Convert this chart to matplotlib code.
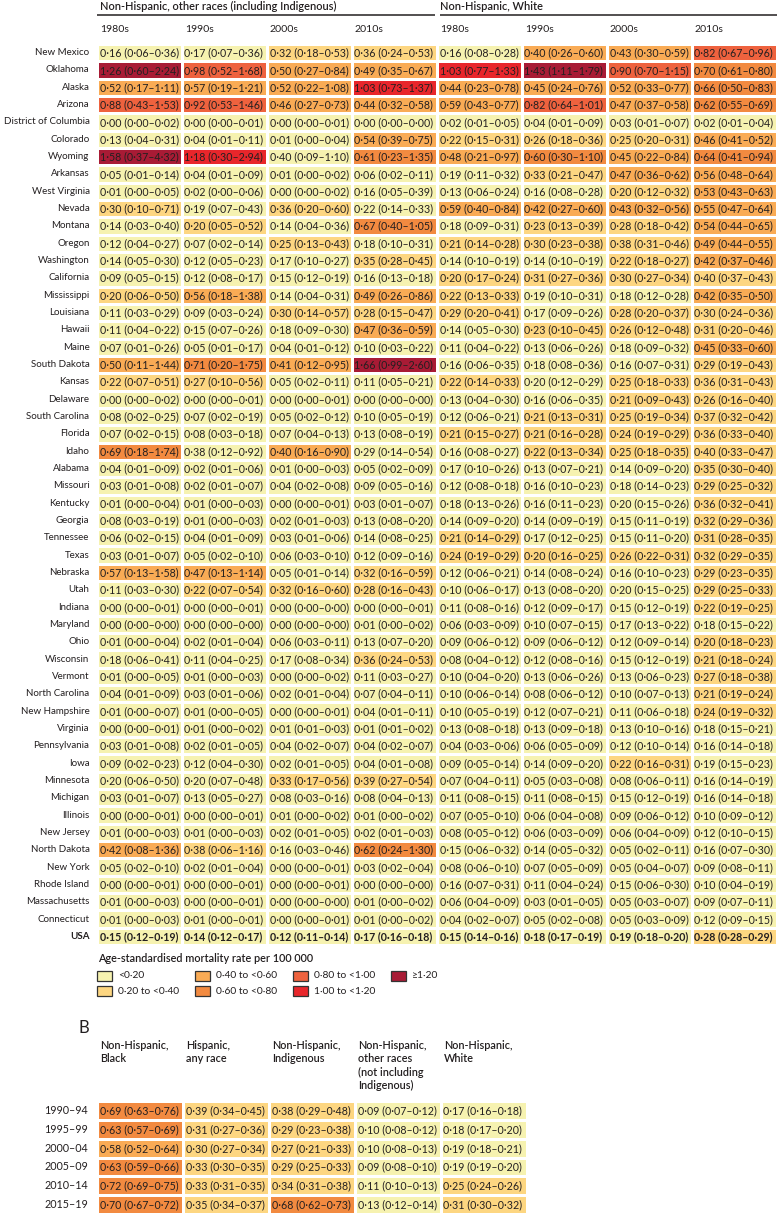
import matplotlib
matplotlib.use("Agg")
import matplotlib.pyplot as plt
import numpy as np
from matplotlib.colors import ListedColormap, BoundaryNorm
from matplotlib.patches import Rectangle

W, H = 778, 1215
plt.rcParams['font.family'] = ['Lato', 'DejaVu Sans']
TXT = "#231f20"

# ---------------- data: panel A ----------------
states = ["New Mexico", "Oklahoma", "Alaska", "Arizona", "District of Columbia", "Colorado",
          "Wyoming", "Arkansas", "West Virginia", "Nevada", "Montana", "Oregon", "Washington",
          "California", "Mississippi", "Louisiana", "Hawaii", "Maine", "South Dakota", "Kansas",
          "Delaware", "South Carolina", "Florida", "Idaho", "Alabama", "Missouri", "Kentucky",
          "Georgia", "Tennessee", "Texas", "Nebraska", "Utah", "Indiana", "Maryland", "Ohio",
          "Wisconsin", "Vermont", "North Carolina", "New Hampshire", "Virginia", "Pennsylvania",
          "Iowa", "Minnesota", "Michigan", "Illinois", "New Jersey", "North Dakota", "New York",
          "Rhode Island", "Massachusetts", "Connecticut", "USA"]

group_titles = ["Non-Hispanic, other races (including Indigenous)", "Non-Hispanic, White"]
decades = ["1980s", "1990s", "2000s", "2010s"]

oth_1980s = [(0.16,0.06,0.36),(1.26,0.60,2.24),(0.52,0.17,1.11),(0.88,0.43,1.53),(0.00,0.00,0.02),
             (0.13,0.04,0.31),(1.58,0.37,4.32),(0.05,0.01,0.14),(0.01,0.00,0.05),(0.30,0.10,0.71),
             (0.14,0.03,0.40),(0.12,0.04,0.27),(0.14,0.05,0.30),(0.09,0.05,0.15),(0.20,0.06,0.50),
             (0.11,0.03,0.29),(0.11,0.04,0.22),(0.07,0.01,0.26),(0.50,0.11,1.44),(0.22,0.07,0.51),
             (0.00,0.00,0.02),(0.08,0.02,0.25),(0.07,0.02,0.15),(0.69,0.18,1.74),(0.04,0.01,0.09),
             (0.03,0.01,0.08),(0.01,0.00,0.04),(0.08,0.03,0.19),(0.06,0.02,0.15),(0.03,0.01,0.07),
             (0.57,0.13,1.58),(0.11,0.03,0.30),(0.00,0.00,0.01),(0.00,0.00,0.00),(0.01,0.00,0.04),
             (0.18,0.06,0.41),(0.01,0.00,0.05),(0.04,0.01,0.09),(0.01,0.00,0.07),(0.00,0.00,0.01),
             (0.03,0.01,0.08),(0.09,0.02,0.23),(0.20,0.06,0.50),(0.03,0.01,0.07),(0.00,0.00,0.01),
             (0.01,0.00,0.03),(0.42,0.08,1.36),(0.05,0.02,0.10),(0.00,0.00,0.01),(0.01,0.00,0.03),
             (0.01,0.00,0.03),(0.15,0.12,0.19)]
oth_1990s = [(0.17,0.07,0.36),(0.98,0.52,1.68),(0.57,0.19,1.21),(0.92,0.53,1.46),(0.00,0.00,0.01),
             (0.04,0.01,0.11),(1.18,0.30,2.94),(0.04,0.01,0.09),(0.02,0.00,0.06),(0.19,0.07,0.43),
             (0.20,0.05,0.52),(0.07,0.02,0.14),(0.12,0.05,0.23),(0.12,0.08,0.17),(0.56,0.18,1.38),
             (0.09,0.03,0.24),(0.15,0.07,0.26),(0.05,0.01,0.17),(0.71,0.20,1.75),(0.27,0.10,0.56),
             (0.00,0.00,0.01),(0.07,0.02,0.19),(0.08,0.03,0.18),(0.38,0.12,0.92),(0.02,0.01,0.06),
             (0.02,0.01,0.07),(0.01,0.00,0.03),(0.01,0.00,0.03),(0.04,0.01,0.09),(0.05,0.02,0.10),
             (0.47,0.13,1.14),(0.22,0.07,0.54),(0.00,0.00,0.01),(0.00,0.00,0.00),(0.02,0.01,0.04),
             (0.11,0.04,0.25),(0.01,0.00,0.03),(0.03,0.01,0.06),(0.01,0.00,0.05),(0.01,0.00,0.02),
             (0.02,0.01,0.05),(0.12,0.04,0.30),(0.20,0.07,0.48),(0.13,0.05,0.27),(0.00,0.00,0.01),
             (0.01,0.00,0.03),(0.38,0.06,1.16),(0.02,0.01,0.04),(0.00,0.00,0.01),(0.00,0.00,0.01),
             (0.01,0.00,0.01),(0.14,0.12,0.17)]
oth_2000s = [(0.32,0.18,0.53),(0.50,0.27,0.84),(0.52,0.22,1.08),(0.46,0.27,0.73),(0.00,0.00,0.01),
             (0.01,0.00,0.04),(0.40,0.09,1.10),(0.01,0.00,0.02),(0.00,0.00,0.02),(0.36,0.20,0.60),
             (0.14,0.04,0.36),(0.25,0.13,0.43),(0.17,0.10,0.27),(0.15,0.12,0.19),(0.14,0.04,0.31),
             (0.30,0.14,0.57),(0.18,0.09,0.30),(0.04,0.01,0.12),(0.41,0.12,0.95),(0.05,0.02,0.11),
             (0.00,0.00,0.01),(0.05,0.02,0.12),(0.07,0.04,0.13),(0.40,0.16,0.90),(0.01,0.00,0.03),
             (0.04,0.02,0.08),(0.00,0.00,0.01),(0.02,0.01,0.03),(0.03,0.01,0.06),(0.06,0.03,0.10),
             (0.05,0.01,0.14),(0.32,0.16,0.60),(0.00,0.00,0.00),(0.00,0.00,0.00),(0.06,0.03,0.11),
             (0.17,0.08,0.34),(0.00,0.00,0.02),(0.02,0.01,0.04),(0.00,0.00,0.01),(0.01,0.01,0.03),
             (0.04,0.02,0.07),(0.02,0.01,0.05),(0.33,0.17,0.56),(0.08,0.03,0.16),(0.01,0.00,0.02),
             (0.02,0.01,0.05),(0.16,0.03,0.46),(0.00,0.00,0.01),(0.00,0.00,0.01),(0.00,0.00,0.00),
             (0.00,0.00,0.01),(0.12,0.11,0.14)]
oth_2010s = [(0.36,0.24,0.53),(0.49,0.35,0.67),(1.03,0.73,1.37),(0.44,0.32,0.58),(0.00,0.00,0.00),
             (0.54,0.39,0.75),(0.61,0.23,1.35),(0.06,0.02,0.11),(0.16,0.05,0.39),(0.22,0.14,0.33),
             (0.67,0.40,1.05),(0.18,0.10,0.31),(0.35,0.28,0.45),(0.16,0.13,0.18),(0.49,0.26,0.86),
             (0.28,0.15,0.47),(0.47,0.36,0.59),(0.10,0.03,0.22),(1.66,0.99,2.60),(0.11,0.05,0.21),
             (0.00,0.00,0.00),(0.10,0.05,0.19),(0.13,0.08,0.19),(0.29,0.14,0.54),(0.05,0.02,0.09),
             (0.09,0.05,0.16),(0.03,0.01,0.07),(0.13,0.08,0.20),(0.14,0.08,0.25),(0.12,0.09,0.16),
             (0.32,0.16,0.59),(0.28,0.16,0.43),(0.00,0.00,0.01),(0.01,0.00,0.02),(0.13,0.07,0.20),
             (0.36,0.24,0.53),(0.11,0.03,0.27),(0.07,0.04,0.11),(0.04,0.01,0.11),(0.01,0.01,0.02),
             (0.04,0.02,0.07),(0.04,0.01,0.08),(0.39,0.27,0.54),(0.08,0.04,0.13),(0.01,0.00,0.02),
             (0.02,0.01,0.03),(0.62,0.24,1.30),(0.03,0.02,0.04),(0.00,0.00,0.00),(0.01,0.00,0.02),
             (0.01,0.00,0.02),(0.17,0.16,0.18)]
wht_1980s = [(0.16,0.08,0.28),(1.03,0.77,1.33),(0.44,0.23,0.78),(0.59,0.43,0.77),(0.02,0.01,0.05),
             (0.22,0.15,0.31),(0.48,0.21,0.97),(0.19,0.11,0.32),(0.13,0.06,0.24),(0.59,0.40,0.84),
             (0.18,0.09,0.31),(0.21,0.14,0.28),(0.14,0.10,0.19),(0.20,0.17,0.24),(0.22,0.13,0.33),
             (0.29,0.20,0.41),(0.14,0.05,0.30),(0.11,0.04,0.22),(0.16,0.06,0.35),(0.22,0.14,0.33),
             (0.13,0.04,0.30),(0.12,0.06,0.21),(0.21,0.15,0.27),(0.16,0.08,0.27),(0.17,0.10,0.26),
             (0.12,0.08,0.18),(0.18,0.13,0.26),(0.14,0.09,0.20),(0.21,0.14,0.29),(0.24,0.19,0.29),
             (0.12,0.06,0.21),(0.10,0.06,0.17),(0.11,0.08,0.16),(0.06,0.03,0.09),(0.09,0.06,0.12),
             (0.08,0.04,0.12),(0.10,0.04,0.20),(0.10,0.06,0.14),(0.10,0.05,0.19),(0.13,0.08,0.18),
             (0.04,0.03,0.06),(0.09,0.05,0.14),(0.07,0.04,0.11),(0.11,0.08,0.15),(0.07,0.05,0.10),
             (0.08,0.05,0.12),(0.15,0.06,0.32),(0.08,0.06,0.10),(0.16,0.07,0.31),(0.06,0.04,0.09),
             (0.04,0.02,0.07),(0.15,0.14,0.16)]
wht_1990s = [(0.40,0.26,0.60),(1.43,1.11,1.79),(0.45,0.24,0.76),(0.82,0.64,1.01),(0.04,0.01,0.09),
             (0.26,0.18,0.36),(0.60,0.30,1.10),(0.33,0.21,0.47),(0.16,0.08,0.28),(0.42,0.27,0.60),
             (0.23,0.13,0.39),(0.30,0.23,0.38),(0.14,0.10,0.19),(0.31,0.27,0.36),(0.19,0.10,0.31),
             (0.17,0.09,0.26),(0.23,0.10,0.45),(0.13,0.06,0.26),(0.18,0.08,0.36),(0.20,0.12,0.29),
             (0.16,0.06,0.35),(0.21,0.13,0.31),(0.21,0.16,0.28),(0.22,0.13,0.34),(0.13,0.07,0.21),
             (0.16,0.10,0.23),(0.16,0.11,0.23),(0.14,0.09,0.19),(0.17,0.12,0.25),(0.20,0.16,0.25),
             (0.14,0.08,0.24),(0.13,0.08,0.20),(0.12,0.09,0.17),(0.10,0.07,0.15),(0.09,0.06,0.12),
             (0.12,0.08,0.16),(0.13,0.06,0.26),(0.08,0.06,0.12),(0.12,0.07,0.21),(0.13,0.09,0.18),
             (0.06,0.05,0.09),(0.14,0.09,0.20),(0.05,0.03,0.08),(0.11,0.08,0.15),(0.06,0.04,0.08),
             (0.06,0.03,0.09),(0.14,0.05,0.32),(0.07,0.05,0.09),(0.11,0.04,0.24),(0.03,0.01,0.05),
             (0.05,0.02,0.08),(0.18,0.17,0.19)]
wht_2000s = [(0.43,0.30,0.59),(0.90,0.70,1.15),(0.52,0.33,0.77),(0.47,0.37,0.58),(0.03,0.01,0.07),
             (0.25,0.20,0.31),(0.45,0.22,0.84),(0.47,0.36,0.62),(0.20,0.12,0.32),(0.43,0.32,0.56),
             (0.28,0.18,0.42),(0.38,0.31,0.46),(0.22,0.18,0.27),(0.30,0.27,0.34),(0.18,0.12,0.28),
             (0.28,0.20,0.37),(0.26,0.12,0.48),(0.18,0.09,0.32),(0.16,0.07,0.31),(0.25,0.18,0.33),
             (0.21,0.09,0.43),(0.25,0.19,0.34),(0.24,0.19,0.29),(0.25,0.18,0.35),(0.14,0.09,0.20),
             (0.18,0.14,0.23),(0.20,0.15,0.26),(0.15,0.11,0.19),(0.15,0.11,0.20),(0.26,0.22,0.31),
             (0.16,0.10,0.23),(0.20,0.15,0.25),(0.15,0.12,0.19),(0.17,0.13,0.22),(0.12,0.09,0.14),
             (0.15,0.12,0.19),(0.13,0.06,0.23),(0.10,0.07,0.13),(0.11,0.06,0.18),(0.13,0.10,0.16),
             (0.12,0.10,0.14),(0.22,0.16,0.31),(0.08,0.06,0.11),(0.15,0.12,0.19),(0.09,0.06,0.12),
             (0.06,0.04,0.09),(0.05,0.02,0.11),(0.05,0.04,0.07),(0.15,0.06,0.30),(0.05,0.03,0.07),
             (0.05,0.03,0.09),(0.19,0.18,0.20)]
wht_2010s = [(0.82,0.67,0.96),(0.70,0.61,0.80),(0.66,0.50,0.83),(0.62,0.55,0.69),(0.02,0.01,0.04),
             (0.46,0.41,0.52),(0.64,0.41,0.94),(0.56,0.48,0.64),(0.53,0.43,0.63),(0.55,0.47,0.64),
             (0.54,0.44,0.65),(0.49,0.44,0.55),(0.42,0.37,0.46),(0.40,0.37,0.43),(0.42,0.35,0.50),
             (0.30,0.24,0.36),(0.31,0.20,0.46),(0.45,0.33,0.60),(0.29,0.19,0.43),(0.36,0.31,0.43),
             (0.26,0.16,0.40),(0.37,0.32,0.42),(0.36,0.33,0.40),(0.40,0.33,0.47),(0.35,0.30,0.40),
             (0.29,0.25,0.32),(0.36,0.32,0.41),(0.32,0.29,0.36),(0.31,0.28,0.35),(0.32,0.29,0.35),
             (0.29,0.23,0.35),(0.29,0.25,0.33),(0.22,0.19,0.25),(0.18,0.15,0.22),(0.20,0.18,0.23),
             (0.21,0.18,0.24),(0.27,0.18,0.38),(0.21,0.19,0.24),(0.24,0.19,0.32),(0.18,0.15,0.21),
             (0.16,0.14,0.18),(0.19,0.15,0.23),(0.16,0.14,0.19),(0.16,0.14,0.18),(0.10,0.09,0.12),
             (0.12,0.10,0.15),(0.16,0.07,0.30),(0.09,0.08,0.11),(0.10,0.04,0.19),(0.09,0.07,0.11),
             (0.12,0.09,0.15),(0.28,0.28,0.29)]

# cells whose shading in the source differs from the rounded value's band: (row, col) -> band
shade_override_A = {(6, 2): 0, (9, 3): 0, (23, 1): 0, (23, 3): 0, (42, 0): 0, (42, 1): 0,
                    (13, 7): 1, (23, 7): 1, (19, 5): 0, (26, 6): 0, (31, 6): 0}

# ---------------- data: panel B ----------------
periods = ["1990–94", "1995–99", "2000–04", "2005–09", "2010–14", "2015–19"]
groups_B = ["Non-Hispanic,\nBlack", "Hispanic,\nany race", "Non-Hispanic,\nIndigenous",
            "Non-Hispanic,\nother races\n(not including\nIndigenous)", "Non-Hispanic,\nWhite"]
b_black = [(0.69,0.63,0.76),(0.63,0.57,0.69),(0.58,0.52,0.64),(0.63,0.59,0.66),(0.72,0.69,0.75),(0.70,0.67,0.72)]
b_hisp = [(0.39,0.34,0.45),(0.31,0.27,0.36),(0.30,0.27,0.34),(0.33,0.30,0.35),(0.33,0.31,0.35),(0.35,0.34,0.37)]
b_indig = [(0.38,0.29,0.48),(0.29,0.23,0.38),(0.27,0.21,0.33),(0.29,0.25,0.33),(0.34,0.31,0.38),(0.68,0.62,0.73)]
b_other = [(0.09,0.07,0.12),(0.10,0.08,0.12),(0.10,0.08,0.13),(0.09,0.08,0.10),(0.11,0.10,0.13),(0.13,0.12,0.14)]
b_white = [(0.17,0.16,0.18),(0.18,0.17,0.20),(0.19,0.18,0.21),(0.19,0.19,0.20),(0.25,0.24,0.26),(0.31,0.30,0.32)]

# ---------------- colour bands ----------------
band_edges = [0, 0.2, 0.4, 0.6, 0.8, 1.0, 1.2, 100]
band_colors = ["#f6f2b0", "#fdd681", "#f9ab55", "#f28a40", "#ee623e", "#e8262b", "#a81b35"]
band_labels = ["<0·20", "0·20 to <0·40", "0·40 to <0·60", "0·60 to <0·80",
               "0·80 to <1·00", "1·00 to <1·20", "≥1·20"]
legend_title = "Age-standardised mortality rate per 100 000"

cmap = ListedColormap(band_colors)
norm = BoundaryNorm(np.arange(len(band_colors) + 1) - 0.5, cmap.N)


def fmt(t):
    v, lo, hi = t
    return f"{v:.2f} ({lo:.2f}–{hi:.2f})".replace(".", "·")


def band(v):
    return int(np.searchsorted(band_edges, v, side="right") - 1)


fig = plt.figure(figsize=(W / 100, H / 100), dpi=100)
renderer = fig.canvas.get_renderer()


def px_axes(x0, y0, x1, y1):
    return fig.add_axes([x0 / W, 1 - y1 / H, (x1 - x0) / W, (y1 - y0) / H])


def fit_size(sample, target_px, weight="normal", base=8.0):
    """font size at which `sample` is target_px wide"""
    t = fig.text(0, 0, sample, fontsize=base, weight=weight)
    w = t.get_window_extent(renderer).width
    t.remove()
    return base * target_px / w


fs_cell = fit_size("0·16 (0·06–0·36)", 79)
fs_state = fit_size("District of Columbia", 87)
fs_title = fit_size(group_titles[0], 234, weight="semibold")
fs_dec = fit_size("1980s", 29)
fs_legt = fit_size(legend_title, 214, weight="semibold")
fs_legl = fit_size("0·20 to <0·40", 62)
fs_bhead = fit_size("Non-Hispanic,", 69, weight="semibold")
fs_brow = fit_size("1990–94", 44.5)

bg = px_axes(0, 0, W, H)
bg.set_xlim(0, W)
bg.set_ylim(H, 0)
bg.axis("off")

# ---------------- panel A ----------------
cols_A = [oth_1980s, oth_1990s, oth_2000s, oth_2010s, wht_1980s, wht_1990s, wht_2000s, wht_2010s]
nr, nc = len(states), len(cols_A)
A_left, A_top, A_right, A_bot = 97, 44, 777, 945
colw = (A_right - A_left) / nc
rowh = (A_bot - A_top) / nr
axA = px_axes(A_left, A_top, A_right, A_bot)
shadeA = np.array([[band(cols_A[j][i][0]) for j in range(nc)] for i in range(nr)])
for (i, j), b in shade_override_A.items():
    shadeA[i, j] = b
axA.pcolormesh(np.arange(nc + 1), np.arange(nr + 1), shadeA, cmap=cmap, norm=norm,
               edgecolors="white", linewidth=1.0)
axA.set_xlim(0, nc)
axA.set_ylim(nr, 0)
axA.axis("off")

for i in range(nr):
    bold = states[i] == "USA"
    axA.text(-7.5 / colw, i + 0.5, states[i], ha="right", va="center", fontsize=fs_state,
             color=TXT, weight="bold" if bold else "normal", clip_on=False)
    for j in range(nc):
        axA.text(j + 2.5 / colw, i + 0.52, fmt(cols_A[j][i]), ha="left", va="center",
                 fontsize=fs_cell, color=TXT, weight="bold" if bold else "normal")

for g in range(2):
    x0 = g * 4
    axA.text(x0 + 3 / colw, (6 - A_top) / rowh, group_titles[g], ha="left", va="center",
             fontsize=fs_title, weight="semibold", color=TXT, clip_on=False)
    axA.plot([x0 + (3 / colw if g else 0), x0 + 4 - (2 / colw if g == 0 else 0)],
             [(15 - A_top) / rowh] * 2, color=TXT, lw=1.1, clip_on=False,
             solid_capstyle="butt")
    for k, d in enumerate(decades):
        axA.text(x0 + k + 3 / colw, (29 - A_top) / rowh, d, ha="left", va="center",
                 fontsize=fs_dec, color=TXT, clip_on=False)

# legend
bg.text(A_left + 1, 958, legend_title, ha="left", va="center", fontsize=fs_legt,
        weight="semibold", color=TXT)
for k, (lab, col) in enumerate(zip(band_labels, band_colors)):
    c, r = divmod(k, 2)
    x = A_left + c * 98
    y = 976 + r * 15
    bg.add_patch(Rectangle((x, y - 5), 15.5, 10, facecolor=col, edgecolor="#333333", lw=0.9))
    bg.text(x + 21, y, lab, ha="left", va="center", fontsize=fs_legl, color=TXT)

# ---------------- panel B ----------------
cols_B = [b_black, b_hisp, b_indig, b_other, b_white]
nrB, ncB = len(periods), len(cols_B)
B_left, B_top, B_right, B_bot = 97, 1101, 527, 1214
colwB = (B_right - B_left) / ncB
rowhB = (B_bot - B_top) / nrB
axB = px_axes(B_left, B_top, B_right, B_bot)
shadeB = np.array([[band(cols_B[j][i][0]) for j in range(ncB)] for i in range(nrB)])
axB.pcolormesh(np.arange(ncB + 1), np.arange(nrB + 1), shadeB, cmap=cmap, norm=norm,
               edgecolors="white", linewidth=1.0)
axB.set_xlim(0, ncB)
axB.set_ylim(nrB, 0)
axB.axis("off")
for i in range(nrB):
    axB.text(-9 / colwB, i + 0.5, periods[i], ha="right", va="center", fontsize=fs_brow,
             color=TXT, clip_on=False)
    for j in range(ncB):
        axB.text(j + 2.5 / colwB, i + 0.52, fmt(cols_B[j][i]), ha="left", va="center",
                 fontsize=fs_cell, color=TXT)
for j, g in enumerate(groups_B):
    axB.text(j + 3 / colwB, (1040 - B_top) / rowhB, g, ha="left", va="top", fontsize=fs_bhead,
             weight="semibold", color=TXT, linespacing=1.25, clip_on=False)

bg.text(84, 1028, "B", ha="center", va="center", fontsize=12, color=TXT)

fig.savefig("out.png", dpi=100)
